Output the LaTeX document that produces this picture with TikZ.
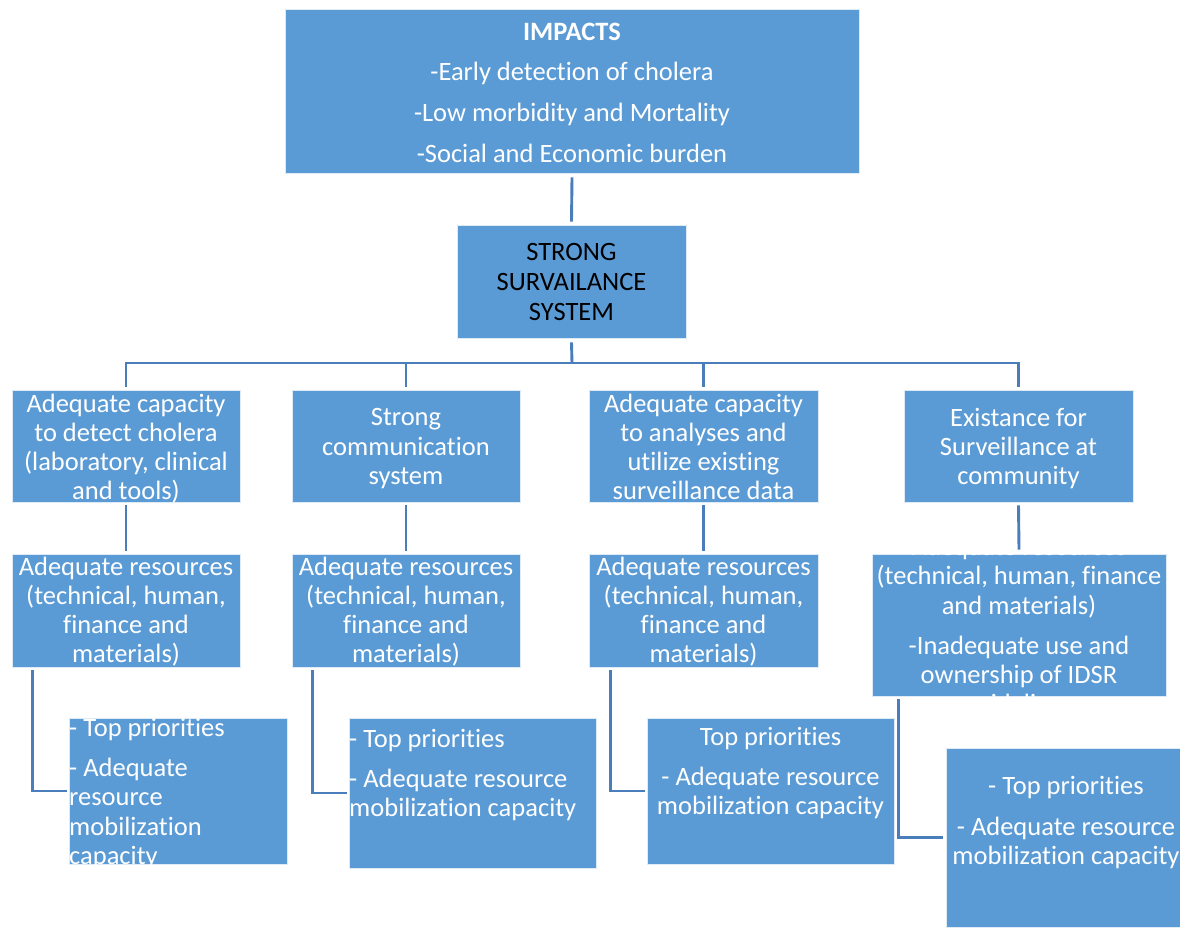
\documentclass[tikz,border=0pt]{standalone}
\usepackage{fontspec}
\setmainfont[Ligatures=NoCommon]{Carlito}
\definecolor{boxblue}{RGB}{91,155,213}
\definecolor{linkblue}{RGB}{74,126,187}

\begin{document}
\begin{tikzpicture}[x=1pt,y=-1pt,
  box/.style={rectangle, fill=boxblue, draw=white!80!boxblue, line width=0.8pt, inner sep=0pt},
  txt/.style={inner sep=0pt, align=center, text=white, anchor=north,
    font=\fontsize{26.5}{29.2}\selectfont,
    execute at begin node=\strut, execute at end node=\strut},
  ltxt/.style={txt, align=left, anchor=north west},
  conn/.style={draw=linkblue, line width=2.9pt}]
\useasboundingbox (0,0) rectangle (1180,929);

% ---- boxes ----
\node[box, minimum width=574pt, minimum height=164pt] (imp) at (572,91) {};
\node[box, minimum width=229pt, minimum height=113pt] (sss) at (571.5,281.5) {};

\node[box, minimum width=228pt, minimum height=112pt] (a1) at (126,446) {};
\node[box, minimum width=228pt, minimum height=112pt] (a2) at (406,446) {};
\node[box, minimum width=229pt, minimum height=112pt] (a3) at (703.5,446) {};
\node[box, minimum width=229pt, minimum height=112pt] (a4) at (1018.5,446) {};

\node[box, minimum width=228pt, minimum height=113pt] (b1) at (126,610.5) {};
\node[box, minimum width=228pt, minimum height=113pt] (b2) at (406,610.5) {};
\node[box, minimum width=229pt, minimum height=113pt] (b3) at (703.5,610.5) {};
\node[box, minimum width=294pt, minimum height=142pt] (b4) at (1019,625) {};

\node[box, minimum width=218pt, minimum height=146pt] (c1) at (178,791) {};
\node[box, minimum width=247pt, minimum height=150pt] (c2) at (472.5,793) {};
\node[box, minimum width=247pt, minimum height=146pt] (c3) at (770.5,791) {};
\node[box, minimum width=234pt, minimum height=179pt] (c4) at (1063,837.5) {};

% ---- texts ----
\node[txt] (imp-t) at (572,22.5) {\textbf{IMPACTS}\\[11.5pt]-Early detection of cholera\\[11.5pt]-Low morbidity and Mortality\\[11.5pt]-Social and Economic burden};
\node[txt, text=black] (sss-t) at (571.5,243) {STRONG\\[0.8pt]SURVAILANCE\\[0.8pt]SYSTEM};

\node[txt] (a1-t) at (126,393.5) {Adequate capacity\\to detect cholera\\(laboratory, clinical\\and tools)};
\node[txt] (a2-t) at (406,408.5) {Strong\\communication\\system};
\node[txt] (a3-t) at (703.5,393.5) {Adequate capacity\\to analyses and\\utilize existing\\surveillance data};
\node[txt] (a4-t) at (1018.5,408) {Existance for\\Surveillance at\\community};

\node[txt] (b1-t) at (126,556.5) {Adequate resources\\(technical, human,\\finance and\\materials)};
\node[txt] (b2-t) at (406,556.5) {Adequate resources\\(technical, human,\\finance and\\materials)};
\node[txt] (b3-t) at (703.5,556.5) {Adequate resources\\(technical, human,\\finance and\\materials)};
\begin{scope}
  \clip (b4.north west) rectangle (b4.south east);
  \node[txt] (b4-t) at (1019,537) {Adequate resources\\(technical, human, finance\\and materials)\\[11pt]-Inadequate use and\\ownership of IDSR\\guidelines};
\end{scope}

\begin{scope}
  \clip (c1.north west) rectangle (c1.south east);
  \node[ltxt] (c1-t) at (69,718) {- Top priorities\\[11pt]- Adequate\\resource\\mobilization\\capacity};
\end{scope}
\node[ltxt] (c2-t) at (349,729) {- Top priorities\\[11pt]- Adequate resource\\mobilization capacity};
\node[txt] (c3-t) at (770.5,727) {Top priorities\\[11pt]- Adequate resource\\mobilization capacity};
\node[txt] (c4-t) at (1066,776.5) {- Top priorities\\[11pt]- Adequate resource\\mobilization capacity};

% ---- connectors ----
\coordinate (bus) at (572,363);
\draw[conn] ([yshift=-4pt]imp.south) -- ([yshift=3pt]sss.north);
\draw[conn] ([yshift=-4pt]sss.south) -- (bus);
\draw[conn] ([yshift=3pt]a1.north) |- (bus) -| ([yshift=3pt]a4.north);
\draw[conn] ([yshift=3pt]a2.north) -- (a2.north |- bus);
\draw[conn] ([yshift=3pt]a3.north) -- (a3.north |- bus);

\draw[conn] ([yshift=-3pt]a1.south) -- ([yshift=3pt]b1.north);
\draw[conn] ([yshift=-3pt]a2.south) -- ([yshift=3pt]b2.north);
\draw[conn] ([yshift=-3pt]a3.south) -- ([yshift=3pt]b3.north);
\draw[conn] ([yshift=-3pt]a4.south) -- ([yshift=4pt]b4.north);

\draw[conn] ([xshift=21pt,yshift=-3pt]b1.south west) |- ([xshift=-2pt]c1.west);
\draw[conn] ([xshift=21pt,yshift=-3pt]b2.south west) |- ([xshift=-2pt]c2.west);
\draw[conn] ([xshift=22pt,yshift=-3pt]b3.south west) |- ([xshift=-2pt]c3.west);
\draw[conn] ([xshift=27pt,yshift=-3pt]b4.south west) |- ([xshift=-3pt]c4.west);
\end{tikzpicture}
\end{document}
